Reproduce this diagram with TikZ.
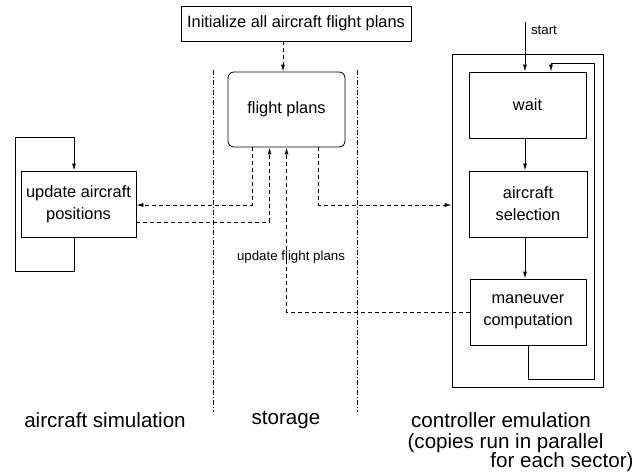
\documentclass[tikz,border=0pt]{standalone}
\usepackage{fontspec}
\setmainfont{Liberation Sans}
\usetikzlibrary{arrows.meta}
\begin{document}
\begin{tikzpicture}[x=1pt,y=-1pt,line width=0.8pt,
  box/.style={draw,inner sep=0pt,align=center,font=\fontsize{16.4}{22}\selectfont},
  arr/.style={-{Latex[length=7pt,width=4pt]}},
  dsh/.style={dash pattern=on 4pt off 3pt},
  lane/.style={line width=0.6pt,dash pattern=on 5pt off 2pt on 1pt off 2pt},
  small/.style={font=\fontsize{13.3}{16}\selectfont,inner sep=0pt},
  lbl/.style={font=\fontsize{20.6}{24}\selectfont,inner sep=0pt}]
\useasboundingbox (0,0) rectangle (634,476);
% lanes
\draw[lane] (213,70) -- (213,412);
\draw[lane] (357,70) -- (357,412);
% nodes
\node[box,minimum width=230pt,minimum height=35pt] (init) at (296,23.5) {Initialize all aircraft flight plans};
\node[box,rounded corners=6pt,minimum width=117pt,minimum height=75pt] (fp) at (286.5,109.5) {flight plans};
\node[box,minimum width=115pt,minimum height=66pt] (uap) at (78.5,204) {update aircraft\\positions};
\node[draw,inner sep=0pt,minimum width=151pt,minimum height=333pt] (outer) at (527.5,220.5) {};
\node[box,minimum width=117pt,minimum height=66pt] (wait) at (527.5,105) {wait};
\node[box,minimum width=118pt,minimum height=66pt] (sel) at (528,204) {aircraft\\selection};
\node[box,minimum width=116pt,minimum height=66pt] (man) at (528,312) {maneuver\\computation};
% labels
\node[small] (lstart) at (544,30) {start};
\node[small] (lupd) at (291,257) {update flight plans};
\node[lbl] (lsim) at (105,420) {aircraft simulation};
\node[lbl] (lsto) at (286,420) {storage};
\node[lbl] (lctl) at (501,420) {controller emulation};
\node[lbl] (lcp1) at (505.5,443) {(copies run in parallel};
\node[lbl] (lcp2) at (562,462) {for each sector)};
% coordinates
\coordinate (st) at (525,22);
\coordinate (c283) at (283,0);
% connectors
\draw[dsh,arr] (init.south -| c283) -- (fp.north -| c283);
\draw[arr] (st) -- (wait.north -| st);
\draw[arr] (wait.south -| st) -- (sel.north -| st);
\draw[arr] (sel.south -| st) -- (man.north -| st);
\draw[arr] (man.south) -- ++(0,34) -| (594,63) -| ([xshift=23.5pt]wait.north);
\draw[arr] ([xshift=-4.5pt]uap.south) -- ++(0,34) -| (15,137) -| ([xshift=-4.5pt]uap.north);
\draw[dsh,arr] ([xshift=25pt]fp.south west) |- ([yshift=-1pt]uap.east);
\draw[dsh,arr] ([yshift=-18pt]uap.east) -| ([xshift=42pt]fp.south west);
\draw[dsh,arr] (man.west) -| ([xshift=59pt]fp.south west);
\draw[dsh,arr] ([xshift=91pt]fp.south west) |- ([yshift=-1pt]outer.west |- uap.east);
\end{tikzpicture}
\end{document}
